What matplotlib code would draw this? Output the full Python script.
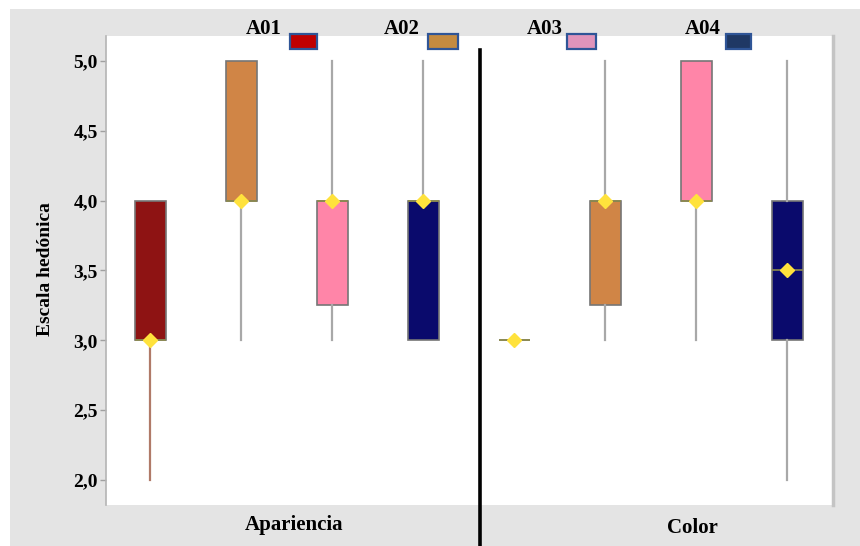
import matplotlib
matplotlib.use("Agg")
import matplotlib.pyplot as plt
from matplotlib.patches import Rectangle
from matplotlib.lines import Line2D

# Hedonic scores per sample, for the two attributes
attributes = ["Apariencia", "Color"]
samples = ["A01", "A02", "A03", "A04"]

q1 = {"Apariencia": [3.0, 4.0, 3.25, 3.0], "Color": [3.0, 3.25, 4.0, 3.0]}
median = {"Apariencia": [3.0, 4.0, 4.0, 4.0], "Color": [3.0, 4.0, 4.0, 3.5]}
q3 = {"Apariencia": [4.0, 5.0, 4.0, 4.0], "Color": [3.0, 4.0, 5.0, 4.0]}
whisk_lo = {"Apariencia": [2.0, 3.0, 3.0, 3.0], "Color": [3.0, 3.0, 3.0, 2.0]}
whisk_hi = {"Apariencia": [4.0, 5.0, 5.0, 5.0], "Color": [3.0, 5.0, 5.0, 5.0]}

yticks = [2.0, 2.5, 3.0, 3.5, 4.0, 4.5, 5.0]
ytick_labels = ["2,0", "2,5", "3,0", "3,5", "4,0", "4,5", "5,0"]

box_colors = ["#8e1313", "#d08546", "#ff85a8", "#0a0a6c"]
legend_colors = ["#c00000", "#c58b40", "#e094bb", "#1f3864"]
whisker_colors = ["#b07a68", "#a8a8a8", "#a8a8a8", "#a8a8a8"]

serif = ["Liberation Serif", "DejaVu Serif"]
plt.rcParams["font.family"] = serif
plt.rcParams["font.weight"] = "bold"

fig = plt.figure(figsize=(8.6, 5.46), dpi=100)
fig.patch.set_facecolor("white")

# grey panel behind the plot
fig.patches.append(Rectangle((10 / 860, 0), 1 - 10 / 860, 1 - 9 / 546,
                             transform=fig.transFigure, facecolor="#e4e4e4",
                             edgecolor="none", zorder=-1))

ax = fig.add_axes([106 / 860, 41 / 546, 727 / 860, 469 / 546])
ax.set_zorder(1)
ax.set_facecolor("white")

pos = 0
for attr in attributes:
    for i, s in enumerate(samples):
        stats = [{
            "q1": q1[attr][i], "med": median[attr][i], "q3": q3[attr][i],
            "whislo": whisk_lo[attr][i], "whishi": whisk_hi[attr][i],
            "fliers": [],
        }]
        wc = whisker_colors[i]
        ax.bxp(stats, positions=[pos], widths=0.34, patch_artist=True,
               showcaps=False, showfliers=False,
               boxprops=dict(facecolor=box_colors[i], edgecolor="#767676", linewidth=1.2),
               whiskerprops=dict(color=wc, linewidth=1.6),
               medianprops=dict(color="#8c8a4c", linewidth=1.2),
               manage_ticks=False, zorder=2)
        ax.plot(pos, median[attr][i], marker="D", markersize=6.8,
                color="#ffe23c", markeredgecolor="#ffe23c", zorder=4)
        pos += 1

ax.set_xlim(-0.484, 7.505)
ax.set_ylim(1.82, 5.18)
ax.set_yticks(yticks)
ax.set_yticklabels(ytick_labels, fontsize=14, fontweight="bold")
ax.tick_params(axis="y", length=4, width=1, color="#a0a0a0", pad=2)
ax.set_xticks([])
for side in ["top", "bottom"]:
    ax.spines[side].set_visible(False)
ax.spines["left"].set_color("#b4b4b4")
ax.spines["left"].set_linewidth(1.2)
ax.spines["right"].set_color("#c4c4c4")
ax.spines["right"].set_linewidth(2.5)

fig.text(46 / 860, 1 - 269 / 546, "Escala hedónica", rotation=90,
         ha="center", va="center", fontsize=14, fontweight="bold")

# attribute labels below the panel
fig.text(294 / 860, 1 - 525 / 546, attributes[0], ha="center", va="center",
         fontsize=15, fontweight="bold")
fig.text(692 / 860, 1 - 528 / 546, attributes[1], ha="center", va="center",
         fontsize=15, fontweight="bold")

# divider between the two attributes
fig.add_artist(Line2D([480 / 860, 480 / 860], [0, 1 - 50 / 546],
                      transform=fig.transFigure, color="black", linewidth=2.6,
                      zorder=5))

# sample key along the top
label_x = [264, 402, 545, 703]
swatch_x = [290, 428, 567, 726]
swatch_w = [27, 30, 29, 25]
for s, lx, sx, sw, c in zip(samples, label_x, swatch_x, swatch_w, legend_colors):
    fig.text(lx / 860, 1 - 29 / 546, s, ha="center", va="center",
             fontsize=15, fontweight="bold")
    fig.patches.append(Rectangle((sx / 860, 1 - 49 / 546), sw / 860, 15 / 546,
                                 transform=fig.transFigure, facecolor=c,
                                 edgecolor="#2f5597", linewidth=1.6, zorder=5))

fig.savefig("out.png", dpi=100)
